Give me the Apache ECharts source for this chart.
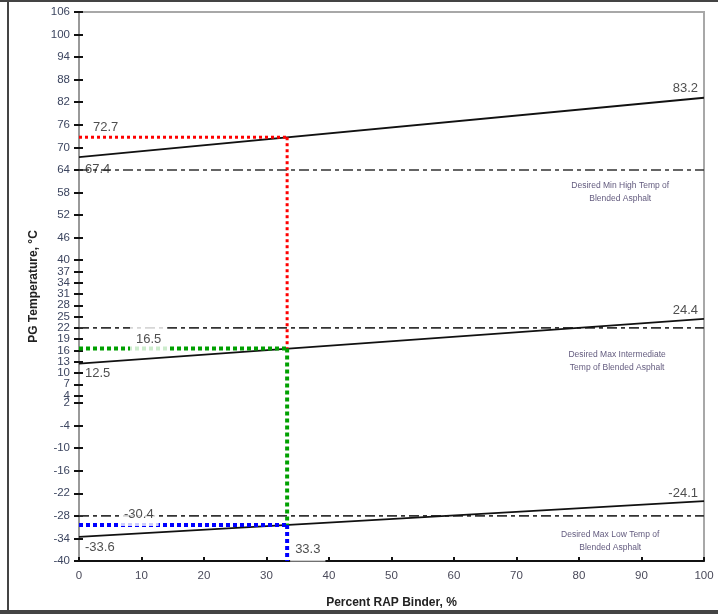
<!DOCTYPE html>
<html><head><meta charset="utf-8">
<script src="https://cdn.jsdelivr.net/npm/echarts@6/dist/echarts.min.js"></script>
<style>html,body{margin:0;padding:0;background:#fff}#c{width:718px;height:614px}</style>
</head><body><div id="c"></div>
<script>
// ---- data ----
const ragPercent = 33.3;
const xStart = 0, xEnd = 100;
const highTempLine = [67.4, 83.2];
const intTempLine = [12.5, 24.4];
const lowTempLine = [-33.6, -24.1];
const blendedHigh = 72.7;
const blendedInt = 16.5;
const blendedLow = -30.4;
const desiredLimits = [64, 22, -28];
const limitNotes = [
  "Desired Min High Temp of\nBlended Asphalt",
  "Desired Max Intermediate\nTemp of Blended Asphalt",
  "Desired Max Low Temp of\nBlended Asphalt"
];
const yTicks = [106,100,94,88,82,76,70,64,58,52,46,40,37,34,31,28,25,22,19,16,13,10,7,4,2,-4,-10,-16,-22,-28,-34,-40];
const yMin = -40, yMax = 106;
const xMin = 0, xMax = 100, xStep = 10;

// ---- chart ----
const FONT = '"Liberation Sans", Arial, sans-serif';
const chart = echarts.init(document.getElementById('c'), null, {renderer: 'canvas'});

function seg(data, color, width, type, z) {
  return {type: 'line', data: data, symbol: 'none', silent: true, z: z || 3,
    lineStyle: {color: color, width: width, type: type || 'solid', cap: 'butt'}, animation: false};
}
const dashDot = [10, 4, 4, 4];

const series = [];
// desired limit lines
desiredLimits.forEach(v => series.push(seg([[xStart, v], [xEnd, v]], '#333', 1.6, dashDot, 2)));
// blending lines
[highTempLine, intTempLine, lowTempLine].forEach(l => series.push(seg([[xStart, l[0]], [xEnd, l[1]]], '#111', 1.8, 'solid', 4)));
// red dotted
series.push(seg([[xStart, blendedHigh], [ragPercent, blendedHigh]], '#ff0000', 3, [3, 3], 5));
series.push(seg([[ragPercent, blendedHigh], [ragPercent, blendedInt]], '#ff0000', 3, [3, 3], 5));
// green dotted
series.push(seg([[xStart, blendedInt], [ragPercent, blendedInt]], '#00a000', 4, [4, 3], 5));
series.push(seg([[ragPercent, blendedInt], [ragPercent, blendedLow]], '#00a000', 4, [4, 3], 5));
// blue dotted
series.push(seg([[xStart, blendedLow], [ragPercent, blendedLow]], '#0000ff', 4, [4, 3], 5));
series.push(seg([[ragPercent, blendedLow], [ragPercent, yMin]], '#0000ff', 4, [4, 3], 5));

// value labels
function lab(x, y, text, pos, offset, extra) {
  return Object.assign({value: [x, y], label: Object.assign({show: true, formatter: text, position: pos, distance: 0, offset: offset}, extra || {})});
}
const boxed = (pad) => ({backgroundColor: '#fff', padding: pad});
series.push({
  type: 'scatter', symbolSize: 0, silent: true, z: 10, animation: false,
  label: {color: '#222', fontSize: 13, fontFamily: FONT},
  data: [
    lab(xStart, blendedHigh, String(blendedHigh), 'right', [14, -10]),
    lab(xStart, highTempLine[0], String(highTempLine[0]), 'right', [6, 12]),
    lab(xEnd, highTempLine[1], String(highTempLine[1]), 'left', [-6, -9]),
    lab(xStart, intTempLine[0], String(intTempLine[0]), 'right', [6, 10]),
    lab(xEnd, intTempLine[1], String(intTempLine[1]), 'left', [-6, -8]),
    lab(xStart, blendedInt, String(blendedInt), 'right', [51, -9], boxed([10, 6, 2, 6])),
    lab(xStart, lowTempLine[0], String(lowTempLine[0]), 'right', [6, 10]),
    lab(xEnd, lowTempLine[1], String(lowTempLine[1]), 'left', [-6, -8]),
    lab(xStart, blendedLow, String(blendedLow), 'right', [40, -10], boxed([3, 5, 6, 5])),
    lab(ragPercent, yMin, String(ragPercent), 'right', [3, -12], boxed([3, 5, 9, 5]))
  ]
});
// limit notes
const noteX = [86.6, 86.1, 85.0];
const noteDy = [22, 33, 25];
series.push({
  type: 'scatter', symbolSize: 0, silent: true, z: 10, animation: false,
  label: {show: true, position: 'inside', color: '#3a2f5c', fontSize: 8.5, lineHeight: 13, fontFamily: FONT, align: 'center'},
  data: desiredLimits.map((v, i) => ({value: [noteX[i], v], label: {formatter: limitNotes[i], offset: [0, noteDy[i]]}}))
});

chart.setOption({
  animation: false,
  backgroundColor: '#fff',
  grid: {left: 79, right: 14, top: 12, bottom: 51, show: true, borderColor: '#a8a8a8', borderWidth: 2, backgroundColor: 'transparent'},
  xAxis: {
    type: 'value', min: xMin, max: xMax, interval: xStep,
    name: 'Percent RAP Binder, %', nameLocation: 'middle', nameGap: 36,
    nameTextStyle: {fontFamily: FONT, fontSize: 12, fontWeight: 'bold', color: '#222'},
    axisLine: {show: true, onZero: false, lineStyle: {color: '#111', width: 2}},
    axisTick: {show: true, inside: true, length: 4, lineStyle: {color: '#111', width: 2}},
    axisLabel: {fontFamily: FONT, fontSize: 11.5, color: '#4a4a5a', margin: 9},
    splitLine: {show: false}
  },
  yAxis: [{
    type: 'value', min: yMin, max: yMax,
    name: 'PG Temperature, °C', nameLocation: 'middle', nameGap: 38, nameRotate: 90,
    nameTextStyle: {fontFamily: FONT, fontSize: 12, fontWeight: 'bold', color: '#222'},
    axisLine: {show: true, onZero: false, lineStyle: {color: '#999', width: 2}},
    axisTick: {show: true, length: 5, customValues: yTicks, lineStyle: {color: '#111', width: 2}},
    axisLabel: {fontFamily: FONT, fontSize: 11.5, color: '#3d4660', margin: 9, customValues: yTicks},
    splitLine: {show: false}
  }, {
    type: 'value', min: yMin, max: yMax, position: 'left',
    axisLine: {show: false, onZero: false},
    axisTick: {show: true, inside: true, length: 4, customValues: yTicks, lineStyle: {color: '#111', width: 2}},
    axisLabel: {show: false, customValues: yTicks},
    splitLine: {show: false}
  }],
  graphic: [
    {type: 'rect', shape: {x: 0, y: 0, width: 718, height: 2}, style: {fill: '#444'}},
    {type: 'rect', shape: {x: 7, y: 0, width: 2, height: 612}, style: {fill: '#444'}},
    {type: 'rect', shape: {x: 0, y: 610, width: 718, height: 4}, style: {fill: '#444'}}
  ],
  series: series
});
</script>
</body></html>
